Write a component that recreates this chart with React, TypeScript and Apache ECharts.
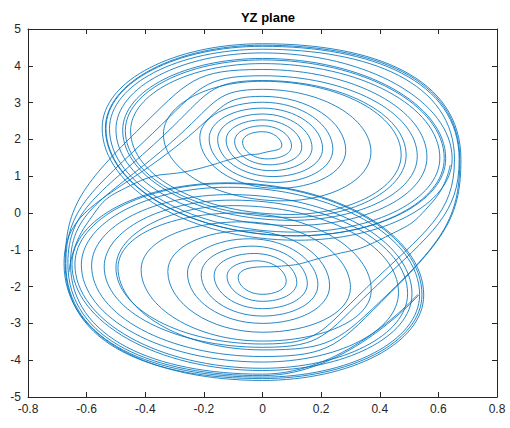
import React, { useEffect, useRef } from "react";
import * as echarts from "echarts";

// Axis ticks
const xTicks = { min: -0.8, max: 0.8, interval: 0.2 };
const yTicks = { min: -5, max: 5, interval: 1 };

// Trajectory pieces [y, z] (counter-clockwise order)
const injectionUpper: [number, number][] = [
  [-0.66, -1.6], [-0.6, -0.3], [-0.45, 0.75], [-0.22, 1.2], [-0.06, 1.56], [0.0, 1.63],
];
const upperInnerSpiral: [number, number][] = [
  [0.066, 1.84], [0, 2.21], [-0.068, 1.93], [0.016, 1.47],
  [0.099, 1.82], [0, 2.37], [-0.095, 1.95], [0.023, 1.31],
  [0.134, 1.79], [0, 2.53], [-0.124, 1.98], [0.029, 1.15],
  [0.169, 1.77], [0, 2.69], [-0.153, 2.0], [0.036, 0.99],
  [0.205, 1.75], [0, 2.85], [-0.182, 2.02], [0.042, 0.83],
  [0.24, 1.73], [0, 3.01], [-0.214, 2.05], [0.05, 0.67],
  [0.284, 1.7], [0, 3.17], [-0.252, 2.08],
];
const lowerVisitA1: [number, number][] = [
  [-0.677, -1.37], [0, -4.55], [0.55, -2.23], [-0.12, 0.82],
  [-0.65, -1.39], [0, -4.28], [0.51, -2.2], [-0.11, 0.5],
  [-0.583, -1.43], [0, -3.9], [0.44, -2.14],
];
const upperVisitA1: [number, number][] = [
  [0.677, 1.45], [0, 4.6], [-0.547, 2.31], [0.12, -0.74],
  [0.647, 1.47], [0, 4.35], [-0.5, 2.27], [0.107, -0.34],
  [0.561, 1.52], [0, 3.9], [-0.43, 2.21],
];
const lowerVisitA2: [number, number][] = [
  [-0.673, -1.37], [0, -4.5], [0.544, -2.22], [-0.12, 0.8],
  [-0.64, -1.39], [0, -4.22], [0.495, -2.19], [-0.104, 0.35],
  [-0.54, -1.46], [0, -3.65], [0.374, -2.09],
];
const upperVisitA2: [number, number][] = [
  [0.671, 1.45], [0, 4.53], [-0.534, 2.3], [0.116, -0.62],
  [0.62, 1.48], [0, 4.16], [-0.468, 2.24], [0.098, -0.12],
  [0.49, 1.57], [0, 3.6], [-0.333, 2.14],
];
const lowerTailA: [number, number][] = [
  [-0.664, -1.38], [0, -4.42], [0.534, -2.22],
];

const injectionLower: [number, number][] = [
  [0.64, 1.3], [0.58, 0.3], [0.42, -0.65], [0.2, -1.22], [0.05, -1.45], [-0.02, -1.47],
];
const lowerInnerSpiral: [number, number][] = [
  [-0.083, -1.75], [0, -2.21], [0.081, -1.86], [-0.02, -1.3],
  [-0.121, -1.72], [0, -2.4], [0.117, -1.89], [-0.028, -1.1],
  [-0.165, -1.7], [0, -2.6], [0.153, -1.92], [-0.036, -0.9],
  [-0.209, -1.67], [0, -2.8], [0.189, -1.95], [-0.044, -0.7],
  [-0.256, -1.64], [0, -3.0], [0.229, -1.98], [-0.055, -0.48],
  [-0.323, -1.59], [0, -3.24], [0.3, -2.03], [-0.071, -0.24],
  [-0.414, -1.54], [0, -3.48], [0.371, -2.09], [-0.086, 0.0],
  [-0.493, -1.49], [0, -3.72], [0.436, -2.14],
];
const upperVisitB1: [number, number][] = [
  [0.673, 1.45], [0, 4.56], [-0.536, 2.3], [0.116, -0.62],
  [0.625, 1.48], [0, 4.2], [-0.477, 2.25], [0.1, -0.2],
  [0.528, 1.54], [0, 3.73], [-0.374, 2.17],
];
const lowerVisitB1: [number, number][] = [
  [-0.671, -1.37], [0, -4.46], [0.536, -2.22], [-0.116, 0.7],
  [-0.618, -1.41], [0, -4.05], [0.464, -2.16], [-0.098, 0.2],
  [-0.5, -1.48], [0, -3.56], [0.35, -2.07],
];
const upperVisitB2: [number, number][] = [
  [0.655, 1.46], [0, 4.45], [-0.522, 2.29], [0.113, -0.52],
  [0.605, 1.495], [0, 4.06], [-0.45, 2.23], [0.093, -0.04],
  [0.473, 1.58], [0, 3.58], [-0.338, 2.14], [0.07, 0.33],
  [0.37, 1.65], [0, 3.36], [-0.286, 2.1],
];
const lowerTailB: [number, number][] = [
  [-0.655, -1.38], [0, -4.38], [0.53, -2.21],
];

const pathA = [
  ...injectionUpper, ...upperInnerSpiral, ...lowerVisitA1, ...upperVisitA1,
  ...lowerVisitA2, ...upperVisitA2, ...lowerTailA,
];
const pathB = [
  ...injectionLower, ...lowerInnerSpiral, ...upperVisitB1, ...lowerVisitB1,
  ...upperVisitB2, ...lowerTailB,
];

const AXIS_COLOR = "#262626";
const LINE_COLOR = "#0072BD";
const FONT = "'Liberation Sans', Arial, Helvetica, sans-serif";

export default function App() {
  const ref = useRef<HTMLDivElement>(null);
  useEffect(() => {
    if (!ref.current) return;
    const chart = echarts.init(ref.current, undefined, { renderer: "svg" });
    const axisCommon = {
      type: "value" as const,
      axisLine: { show: true, onZero: false, lineStyle: { color: AXIS_COLOR, width: 1 } },
      axisTick: { show: true, inside: true, length: 5, lineStyle: { color: AXIS_COLOR } },
      splitLine: { show: false },
    };
    const lineSeries = (data: [number, number][]) => ({
      type: "line" as const,
      data,
      showSymbol: false,
      smooth: 0.55,
      lineStyle: { color: LINE_COLOR, width: 0.85 },
      silent: true,
    });
    chart.setOption({
      animation: false,
      backgroundColor: "#ffffff",
      title: {
        text: "YZ plane",
        left: 263,
        top: 6,
        textAlign: "center",
        textStyle: { fontFamily: FONT, fontSize: 13, fontWeight: "bold", color: "#000" },
      },
      grid: { left: 28, right: 13, top: 29, bottom: 31, containLabel: false },
      xAxis: [
        {
          ...axisCommon,
          position: "bottom",
          ...xTicks,
          axisLabel: { color: AXIS_COLOR, fontFamily: FONT, fontSize: 12, margin: 6 },
        },
        {
          ...axisCommon,
          position: "top",
          ...xTicks,
          axisLabel: { show: false },
        },
      ],
      yAxis: [
        {
          ...axisCommon,
          position: "left",
          ...yTicks,
          axisLabel: { color: AXIS_COLOR, fontFamily: FONT, fontSize: 12, margin: 7 },
        },
        {
          ...axisCommon,
          position: "right",
          ...yTicks,
          axisLabel: { show: false },
        },
      ],
      series: [lineSeries(pathA), lineSeries(pathB)],
    });
    return () => chart.dispose();
  }, []);
  return (
    <div
      ref={ref}
      style={{ position: "fixed", left: 0, top: 0, width: 510, height: 428 }}
    />
  );
}
